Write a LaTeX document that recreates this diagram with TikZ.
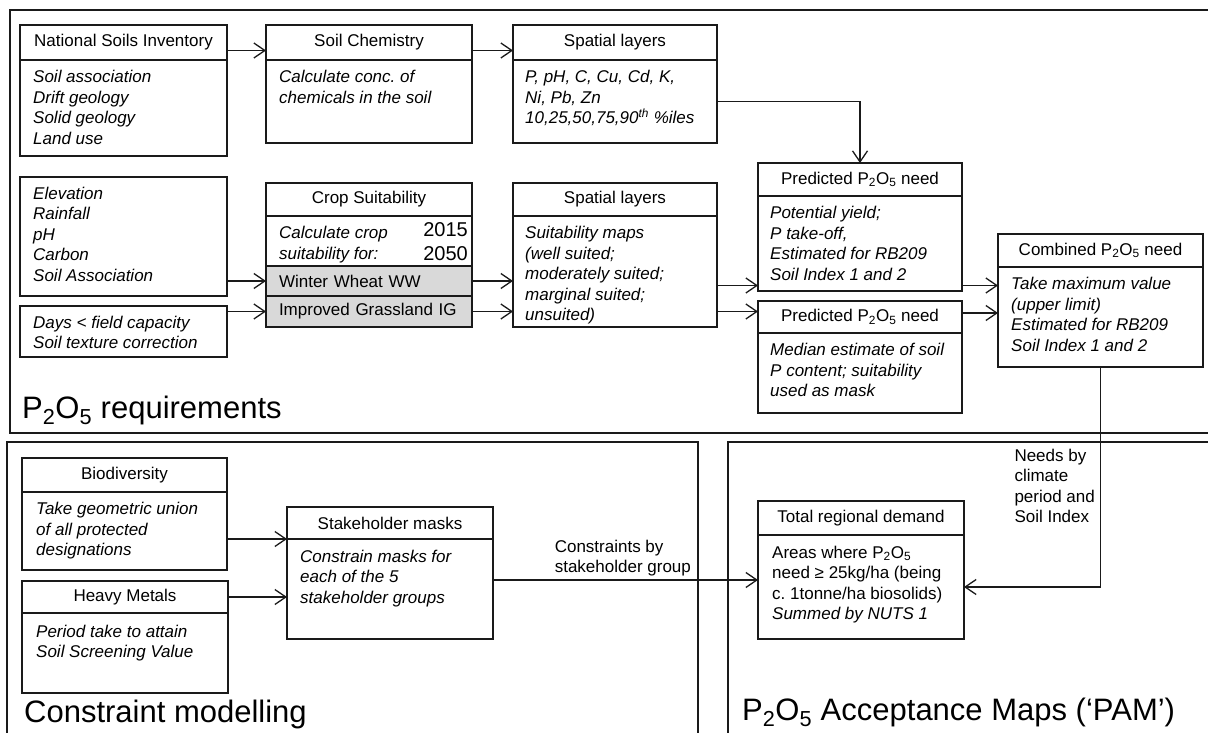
\documentclass[tikz,border=0pt]{standalone}
\usepackage{fontspec}
\setmainfont{Liberation Sans}
\usepackage{tikz}
\usetikzlibrary{arrows.meta,positioning}
\definecolor{ink}{HTML}{1A1A1A}
\definecolor{rowgrey}{HTML}{D9D9D9}
\newcommand{\boxfont}{\fontsize{17}{20.5}\selectfont}
\newcommand{\yearfont}{\fontsize{20}{24}\selectfont}
\newcommand{\panelfont}{\fontsize{31}{36}\selectfont}
\newcommand{\PO}{P\textsubscript{2}O\textsubscript{5}}
\frenchspacing

\begin{document}
\begin{tikzpicture}[x=1pt,y=-1pt,
  hd/.style={draw=ink,line width=1.4pt,inner sep=0pt,outer sep=0pt,anchor=north west,font=\boxfont},
  bd/.style={draw=ink,line width=1.4pt,inner sep=0pt,outer sep=0pt},
  tx/.style={inner sep=0pt,align=left,anchor=north west,font=\boxfont\itshape},
  lbl/.style={inner sep=0pt,align=left,font=\boxfont},
  row/.style={draw=ink,line width=1.4pt,fill=rowgrey,inner sep=0pt,outer sep=0pt,align=left,font=\boxfont},
  arr/.style={-{Straight Barb[length=11pt,width=15pt]},draw=ink,line width=1.3pt},
  panel/.style={draw=ink,line width=1.4pt}
]
\useasboundingbox (0,0) rectangle (1208,733);
\clip (0,0) rectangle (1208,733);

% panels
\draw[panel] (10,10) rectangle (1240,433);
\draw[panel] (7,442) rectangle (698,760);
\draw[panel] (728,442) rectangle (1240,760);
\node[lbl,font=\panelfont,anchor=base west] (treq) at (22,418) {\PO{} requirements};
\node[lbl,font=\panelfont,anchor=base west] (tcon) at (24,722) {Constraint modelling};
\node[lbl,font=\panelfont,anchor=base west] (tpam) at (742,720) {\PO{} Acceptance Maps (‘PAM’)};

% soil chemistry row
\node[hd,minimum width=207pt,minimum height=35pt] (nsi) at (20,25) {National Soils Inventory};
\node[bd,minimum width=207pt,minimum height=96pt,below=0pt of nsi] (nsib) {};
\node[tx,below right=10pt and 13pt of nsib.north west] (nsit) {Soil association\\Drift geology\\Solid geology\\Land use};

\node[hd,minimum width=206pt,minimum height=35pt] (chem) at (266,25) {Soil Chemistry};
\node[bd,minimum width=206pt,minimum height=83pt,below=0pt of chem] (chemb) {};
\node[tx,below right=10pt and 13pt of chemb.north west] (chemt) {Calculate conc. of\\chemicals in the soil};

\node[hd,minimum width=204pt,minimum height=35pt] (spat1) at (513,25) {Spatial layers};
\node[bd,minimum width=204pt,minimum height=83pt,below=0pt of spat1] (spat1b) {};
\node[tx,below right=10pt and 12pt of spat1b.north west] (spat1t) {P, pH, C, Cu, Cd, K,\\Ni, Pb, Zn\\10,25,50,75,90\textsuperscript{th} \%iles};

% crop suitability row
\node[bd,anchor=north west,minimum width=207pt,minimum height=119pt] (elev) at (20,177) {};
\node[tx,below right=9.6pt and 13pt of elev.north west] (elevt) {Elevation\\Rainfall\\pH\\Carbon\\Soil Association};
\node[bd,anchor=north west,minimum width=207pt,minimum height=51pt] (days) at (20,306) {};
\node[tx,below right=9.6pt and 13pt of days.north west] (dayst) {Days < field capacity\\Soil texture correction};

\node[hd,minimum width=206pt,minimum height=33pt] (crop) at (266,183) {Crop Suitability};
\node[bd,minimum width=206pt,minimum height=50pt,below=0pt of crop] (cropb) {};
\node[tx,below right=10pt and 13pt of cropb.north west] (cropt) {Calculate crop\\suitability for:};
\node[lbl,font=\yearfont,align=right,below left=6.5pt and 4pt of cropb.north east] (years) {2015\\2050};
\node[row,minimum width=206pt,minimum height=30pt,text width=180pt,below=0pt of cropb] (ww) {Winter Wheat WW};
\node[row,minimum width=206pt,minimum height=31pt,text width=180pt,below=0pt of ww] (ig) {Improved Grassland IG};

\node[hd,minimum width=204pt,minimum height=33pt] (spat2) at (513,183) {Spatial layers};
\node[bd,minimum width=204pt,minimum height=111pt,below=0pt of spat2] (spat2b) {};
\node[tx,below right=10pt and 12pt of spat2b.north west] (spat2t) {Suitability maps\\(well suited;\\moderately suited;\\marginal suited;\\unsuited)};

\node[hd,minimum width=204pt,minimum height=33pt] (pred1) at (758,163) {Predicted \PO{} need};
\node[bd,minimum width=204pt,minimum height=95pt,below=0pt of pred1] (pred1b) {};
\node[tx,below right=10pt and 12pt of pred1b.north west] (pred1t) {Potential yield;\\P take-off,\\Estimated for RB209\\Soil Index 1 and 2};

\node[hd,minimum width=204pt,minimum height=32pt] (pred2) at (758,301) {Predicted \PO{} need};
\node[bd,minimum width=204pt,minimum height=80pt,below=0pt of pred2] (pred2b) {};
\node[tx,below right=10pt and 12pt of pred2b.north west] (pred2t) {Median estimate of soil\\P content; suitability\\used as mask};

\node[hd,minimum width=205pt,minimum height=33pt] (comb) at (998,234) {Combined \PO{} need};
\node[bd,minimum width=205pt,minimum height=100pt,below=0pt of comb] (combb) {};
\node[tx,below right=10pt and 13pt of combb.north west] (combt) {Take maximum value\\(upper limit)\\Estimated for RB209\\Soil Index 1 and 2};

% constraint modelling
\node[hd,minimum width=205pt,minimum height=34pt] (bio) at (22,458) {Biodiversity};
\node[bd,minimum width=205pt,minimum height=78pt,below=0pt of bio] (biob) {};
\node[tx,below right=10pt and 14pt of biob.north west] (biot) {Take geometric union\\of all protected\\designations};

\node[hd,minimum width=206pt,minimum height=32pt] (heavy) at (22,581) {Heavy Metals};
\node[bd,minimum width=206pt,minimum height=80pt,below=0pt of heavy] (heavyb) {};
\node[tx,below right=11.5pt and 14pt of heavyb.north west] (heavyt) {Period take to attain\\Soil Screening Value};

\node[hd,minimum width=206pt,minimum height=32pt] (stake) at (287,507) {Stakeholder masks};
\node[bd,minimum width=206pt,minimum height=100pt,below=0pt of stake] (stakeb) {};
\node[tx,below right=10.5pt and 13pt of stakeb.north west] (staket) {Constrain masks for\\each of the 5\\stakeholder groups};

% acceptance maps
\node[hd,line width=2.4pt,minimum width=206pt,minimum height=34pt] (tot) at (758,501) {Total regional demand};
\node[bd,line width=2.4pt,minimum width=206pt,minimum height=104pt,below=0pt of tot] (totb) {};
\node[tx,font=\boxfont,below right=10.5pt and 14pt of totb.north west] (tott) {Areas where \PO\\need ≥ 25kg/ha (being\\c. 1tonne/ha biosolids)\\\textit{Summed by NUTS 1}};

% connectors
\draw[arr] ([yshift=-8pt]nsi.east) -- ([yshift=-8pt]chem.west);
\draw[arr] ([yshift=-8pt]chem.east) -- ([yshift=-8pt]spat1.west);
\draw[arr] (spat1b.east) -| (pred1.north);
\draw[arr] (ww.west -| elev.east) -- (ww.west);
\draw[arr] (ig.west -| days.east) -- (ig.west);
\draw[arr] (ww.east) -- (ww.east -| spat2b.west);
\draw[arr] (ig.east) -- (ig.east -| spat2b.west);
\draw[arr] ([yshift=-14pt]spat2b.east) -- ([yshift=-14pt]spat2b.east -| pred1b.west);
\draw[arr] (ig.east -| spat2b.east) -- (ig.east -| pred2.west);
\draw[arr] ([yshift=-14pt]spat2b.east -| pred1b.east) -- ([yshift=-14pt]spat2b.east -| combb.west);
\draw[arr] ([yshift=4pt]pred2.east) -- ([yshift=4pt]pred2.east -| combb.west);
\draw[arr] (combb.south) |- node[lbl,pos=0.27,anchor=east,xshift=-5pt] (needs) {Needs by\\climate\\period and\\Soil Index} (totb.east);
\draw[arr] (stake.south west -| bio.east) -- (stake.south west);
\draw[arr] (heavy.east) -- (heavy.east -| stakeb.west);
\draw[arr] ([yshift=9pt]stakeb.east) -- node[lbl,pos=0.49,above=3pt] (cons) {Constraints by\\stakeholder group} ([yshift=9pt]stakeb.east -| totb.west);
\end{tikzpicture}
\end{document}
